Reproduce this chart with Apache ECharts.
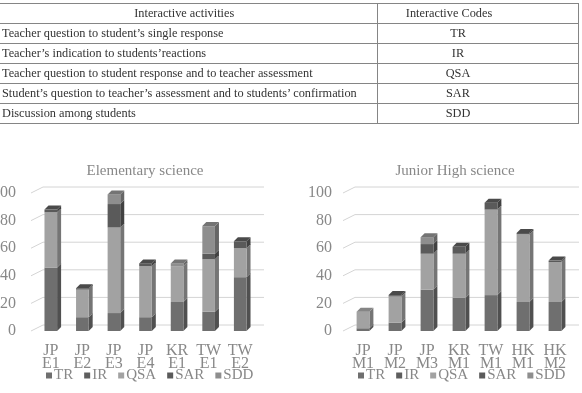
<!DOCTYPE html>
<html>
<head>
<meta charset="utf-8">
<script src="https://cdn.jsdelivr.net/npm/echarts@6/dist/echarts.min.js"></script>
<style>
html, body { margin: 0; padding: 0; background: #fff; }
#chart { position: absolute; left: 0; top: 0; width: 582px; height: 393px; }
#codes { position: absolute; left: 0; top: 3px; border-collapse: collapse; font-family: 'Liberation Serif', serif; font-size: 12.3px; color: #333; table-layout: fixed; }
#codes td { border: 1px solid #858585; height: 19px; padding: 0 2px; white-space: nowrap; overflow: hidden; }
#codes td.first { border-left: none; }
#codes td.code { text-align: center; padding-right: 41px; }
#codes td.head1 { text-align: center; padding-right: 10px; }
</style>
</head>
<body>
<div id="chart"></div>
<table id="codes"></table>
<script>
// table contents
var tableHeader = ['Interactive activities', 'Interactive Codes'];
var activities = [
	'Teacher question to student\u2019s single response',
	'Teacher\u2019s indication to students\u2019reactions',
	'Teacher question to student response and to teacher assessment',
	'Student\u2019s question to teacher\u2019s assessment and to students\u2019 confirmation',
	'Discussion among students'
];
var codes = ['TR', 'IR', 'QSA', 'SAR', 'SDD'];

// chart data
var yTicks = [0, 20, 40, 60, 80, 100];
var elemTitle = 'Elementary science';
var elemCats = ['JP\nE1', 'JP\nE2', 'JP\nE3', 'JP\nE4', 'KR\nE1', 'TW\nE1', 'TW\nE2'];
var elemTR  = [46, 10, 13, 10, 21, 14, 39];
var elemIR  = [0, 0, 0, 0, 0, 0, 0];
var elemQSA = [40, 20, 62, 37, 26, 38, 21];
var elemSAR = [2, 1, 17, 2, 0, 4, 5];
var elemSDD = [0, 0, 7, 0, 2, 20, 0];

var jhTitle = 'Junior High science';
var jhCats = ['JP\nM1', 'JP\nM2', 'JP\nM3', 'KR\nM1', 'TW\nM1', 'HK\nM1', 'HK\nM2'];
var jhTR  = [2, 6, 30, 24, 26, 21, 21];
var jhIR  = [0, 0, 0, 0, 0, 0, 0];
var jhQSA = [12, 19, 26, 32, 62, 49, 29];
var jhSAR = [0, 1, 7, 5, 5, 1, 1];
var jhSDD = [0, 0, 5, 0, 0, 0, 0];

var colors = ['#6f6f6f', '#5e5e5e', '#a2a2a2', '#5a5a5a', '#8e8e8e'];

// build table
var tbl = document.getElementById('codes');
var html = '<colgroup><col style="width:377px"><col style="width:201px"></colgroup>';
html += '<tr><td class="first head1">' + tableHeader[0] + '</td><td class="code" style="padding-right:59px">' + tableHeader[1] + '</td></tr>';
for (var r = 0; r < activities.length; r++) {
	html += '<tr><td class="first">' + activities[r] + '</td><td class="code">' + codes[r] + '</td></tr>';
}
tbl.innerHTML = html;

function shade(hex, f) {
	var n = parseInt(hex.slice(1), 16);
	var r = Math.round(((n >> 16) & 255) * f);
	var g = Math.round(((n >> 8) & 255) * f);
	var b = Math.round((n & 255) * f);
	return 'rgb(' + r + ',' + g + ',' + b + ')';
}

var DEPTH = 4;

function renderBar(params, api) {
	var lo = api.coord([api.value(0), api.value(1)]);
	var hi = api.coord([api.value(0), api.value(2)]);
	if (lo[1] - hi[1] < 0.3) return null;
	var w = api.size([1, 0])[0] * 0.4;
	var x0 = lo[0] - w / 2, x1 = lo[0] + w / 2;
	var base = colors[params.seriesIndex % 6 - 1];
	var kids = [
		{type: 'polygon', shape: {points: [[x1, hi[1]], [x1 + DEPTH, hi[1] - DEPTH], [x1 + DEPTH, lo[1] - DEPTH], [x1, lo[1]]]}, style: {fill: shade(base, 0.72)}},
		{type: 'rect', shape: {x: x0, y: hi[1], width: w, height: lo[1] - hi[1]}, style: {fill: base}}
	];
	if (api.value(3)) {
		kids.push({type: 'polygon', shape: {points: [[x0, hi[1]], [x0 + DEPTH, hi[1] - DEPTH], [x1 + DEPTH, hi[1] - DEPTH], [x1, hi[1]]]}, style: {fill: shade(base, 0.82)}});
	}
	return {type: 'group', children: kids};
}

function renderWall(params, api) {
	var y = api.coord([0, api.value(1)])[1];
	var cs = params.coordSys;
	return {type: 'group', children: [
		{type: 'line', shape: {x1: cs.x - 4, y1: y, x2: cs.x + 8, y2: y - 6}, style: {stroke: '#d4d4d4', lineWidth: 1}},
		{type: 'line', shape: {x1: cs.x + 8, y1: y - 6, x2: cs.x + cs.width + 8, y2: y - 6}, style: {stroke: '#d4d4d4', lineWidth: 1}}
	]};
}

function buildSeries(idx, stacks) {
	var list = [];
	list.push({
		type: 'custom', name: 'wall' + idx, xAxisIndex: idx, yAxisIndex: idx, z: 1, silent: true,
		renderItem: renderWall,
		data: yTicks.map(function (v) { return [0, v]; })
	});
	var n = stacks[0].length;
	var topIdx = [];
	for (var c = 0; c < n; c++) {
		var t = -1;
		for (var k = 0; k < stacks.length; k++) if (stacks[k][c] > 0) t = k;
		topIdx.push(t);
	}
	var sums = new Array(n).fill(0);
	for (var k = 0; k < stacks.length; k++) {
		var data = [];
		for (var c = 0; c < n; c++) {
			data.push([c, sums[c], sums[c] + stacks[k][c], topIdx[c] === k ? 1 : 0]);
			sums[c] += stacks[k][c];
		}
		list.push({
			type: 'custom', name: codes[k], xAxisIndex: idx, yAxisIndex: idx, z: 2,
			color: colors[k],
			renderItem: renderBar,
			encode: {x: 0, y: [1, 2]},
			data: data
		});
	}
	return list;
}

var font = 'Liberation Serif';
var textGray = '#888888';

function xAxisOf(idx, cats) {
	return {
		type: 'category', gridIndex: idx, data: cats,
		axisLine: {show: false}, axisTick: {show: false}, splitLine: {show: false},
		axisLabel: {color: textGray, fontFamily: font, fontSize: 16, lineHeight: 13, margin: 13, interval: 0}
	};
}
function yAxisOf(idx, margin) {
	return {
		type: 'value', gridIndex: idx, min: 0, max: 100, interval: 20,
		axisLine: {show: false}, axisTick: {show: false}, splitLine: {show: false},
		axisLabel: {color: textGray, fontFamily: font, fontSize: 16, margin: margin, padding: [3, 0, 0, 0]}
	};
}
function legendOf(left) {
	return {
		left: left, top: 368, padding: 0, data: codes, icon: 'rect', itemWidth: 6, itemHeight: 6, itemGap: 11,
		selectedMode: false,
		textStyle: {color: textGray, fontFamily: font, fontSize: 15, padding: [0, 0, 0, -3]}
	};
}

var chart = echarts.init(document.getElementById('chart'));
chart.setOption({
	animation: false,
	grid: [
		{left: 35, top: 193, width: 221, height: 138, outerBoundsMode: 'none', containLabel: false},
		{left: 347, top: 193, width: 224, height: 138, outerBoundsMode: 'none', containLabel: false}
	],
	xAxis: [xAxisOf(0, elemCats), xAxisOf(1, jhCats)],
	yAxis: [yAxisOf(0, 19), yAxisOf(1, 15)],
	legend: [legendOf(46), legendOf(358)],
	graphic: [
		{type: 'text', x: 145, y: 171, style: {text: elemTitle, fill: textGray, fontFamily: font, fontSize: 15, align: 'center', verticalAlign: 'middle'}},
		{type: 'text', x: 455, y: 171, style: {text: jhTitle, fill: textGray, fontFamily: font, fontSize: 15, align: 'center', verticalAlign: 'middle'}}
	],
	series: buildSeries(0, [elemTR, elemIR, elemQSA, elemSAR, elemSDD])
		.concat(buildSeries(1, [jhTR, jhIR, jhQSA, jhSAR, jhSDD]))
});
</script>
</body>
</html>
